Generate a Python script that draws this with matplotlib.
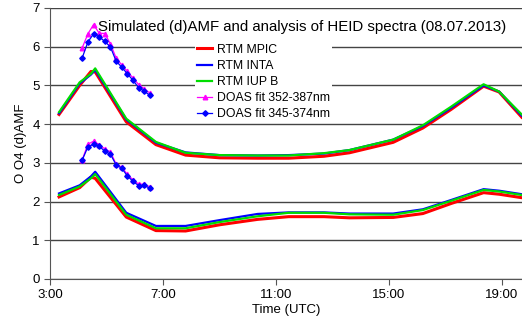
# -*- coding: utf-8 -*-
import numpy as np
import matplotlib
matplotlib.use("Agg")
import matplotlib.pyplot as plt

plt.rcParams['font.family'] = ['Liberation Sans', 'DejaVu Sans']

# horas (UTC) das simulacoes RTM
t_rtm = [3.32, 4.05, 4.45, 4.6, 5.7, 6.75, 7.8, 9.0, 10.35, 11.45, 12.7, 13.6,
         15.15, 16.2, 17.2, 18.35, 18.9, 19.7]

# curvas superiores (~5)
mpic_hi = [4.25, 5.0, 5.36, 5.35, 4.06, 3.47, 3.2, 3.13, 3.12, 3.12, 3.17, 3.26,
           3.53, 3.9, 4.38, 4.98, 4.83, 4.18]
inta_hi = [4.28, 5.05, 5.28, 5.4, 4.12, 3.52, 3.27, 3.2, 3.19, 3.2, 3.24, 3.33,
           3.6, 3.95, 4.42, 5.0, 4.84, 4.22]
iupb_hi = [4.31, 5.08, 5.3, 5.44, 4.14, 3.54, 3.26, 3.2, 3.19, 3.19, 3.25, 3.33,
           3.6, 3.97, 4.45, 5.03, 4.84, 4.25]

# curvas inferiores (~2)
mpic_lo = [2.12, 2.36, 2.63, 2.6, 1.6, 1.25, 1.24, 1.4, 1.54, 1.61, 1.61, 1.58,
           1.59, 1.69, 1.95, 2.23, 2.19, 2.1]
inta_lo = [2.21, 2.42, 2.65, 2.77, 1.71, 1.37, 1.37, 1.52, 1.68, 1.72, 1.72, 1.69,
           1.69, 1.8, 2.04, 2.32, 2.28, 2.19]
iupb_lo = [2.17, 2.39, 2.6, 2.71, 1.66, 1.31, 1.31, 1.47, 1.62, 1.71, 1.71, 1.67,
           1.66, 1.78, 2.02, 2.3, 2.26, 2.17]

# medidas DOAS
t_doas = [4.14, 4.34, 4.54, 4.74, 4.94, 5.14, 5.34, 5.54, 5.74, 5.94, 6.14, 6.34, 6.54]
fit352_hi = [5.97, 6.33, 6.57, 6.35, 6.34, 6.07, 5.71, 5.53, 5.36, 5.19, 5.02, 4.91, 4.80]
fit345_hi = [5.71, 6.12, 6.33, 6.25, 6.14, 5.99, 5.63, 5.47, 5.30, 5.13, 4.94, 4.85, 4.74]
fit352_lo = [3.08, 3.48, 3.56, 3.47, 3.36, 3.28, 2.97, 2.89, 2.70, 2.56, 2.45, 2.45, 2.38]
fit345_lo = [3.07, 3.41, 3.48, 3.43, 3.30, 3.22, 2.95, 2.86, 2.66, 2.52, 2.41, 2.42, 2.34]

xticks = [3, 7, 11, 15, 19]
xlabels = ["3:00", "7:00", "11:00", "15:00", "19:00"]


def main():
    fig = plt.figure(figsize=(5.22, 3.26), dpi=100)
    ax = fig.add_axes([0.0958, 0.1442, 0.9042, 0.8313])

    # RTM
    ax.plot(t_rtm, mpic_hi, color='#ff0000', lw=2.2, label='RTM MPIC')
    ax.plot(t_rtm, inta_hi, color='#0000ff', lw=1.6, label='RTM INTA')
    ax.plot(t_rtm, iupb_hi, color='#00dd00', lw=1.6, label='RTM IUP B')
    ax.plot(t_rtm, mpic_lo, color='#ff0000', lw=2.2)
    ax.plot(t_rtm, inta_lo, color='#0000ff', lw=1.6)
    ax.plot(t_rtm, iupb_lo, color='#00dd00', lw=1.6)

    # DOAS
    ax.plot(t_doas, fit352_hi, color='#ff00ff', lw=0.9, marker='^', ms=3.3,
            label='DOAS fit 352-387nm')
    ax.plot(t_doas, fit345_hi, color='#0000ff', lw=0.9, marker='D', ms=2.8,
            label='DOAS fit 345-374nm')
    ax.plot(t_doas, fit352_lo, color='#ff00ff', lw=0.9, marker='^', ms=3.3)
    ax.plot(t_doas, fit345_lo, color='#0000ff', lw=0.9, marker='D', ms=2.8)

    ############## CONFIGURACAO DO GRAFICO ##########
    ax.set_xlim(3, 19.71)
    ax.set_ylim(0, 7)
    ax.set_xticks(xticks)
    ax.set_xticklabels(xlabels)
    ax.set_yticks(range(0, 8))
    ax.yaxis.grid(True, color='#444444', lw=1)
    ax.set_axisbelow(True)
    for s in ['top', 'right']:
        ax.spines[s].set_visible(False)
    for s in ['left', 'bottom']:
        ax.spines[s].set_color('#555555')
    ax.tick_params(labelsize=9.5, color='#555555', length=4)

    ax.set_xlabel("Time (UTC)", fontsize=9.5, labelpad=2)
    ax.set_ylabel("O O4 (d)AMF", fontsize=9.5, labelpad=4)
    ax.text(0.102, 0.915, "Simulated (d)AMF and analysis of HEID spectra (08.07.2013)",
            transform=ax.transAxes, fontsize=10.8, zorder=10)

    ax.legend(loc='upper left', bbox_to_anchor=(0.295, 0.895), frameon=True,
              fontsize=8.8, handlelength=1.3, handletextpad=0.4, labelspacing=0.33,
              borderpad=0.1)
    leg = ax.get_legend()
    leg.get_frame().set_facecolor('white')
    leg.get_frame().set_edgecolor('none')
    leg.get_frame().set_alpha(1)

    fig.savefig("out.png", dpi=100)


if __name__ == '__main__':
    main()
